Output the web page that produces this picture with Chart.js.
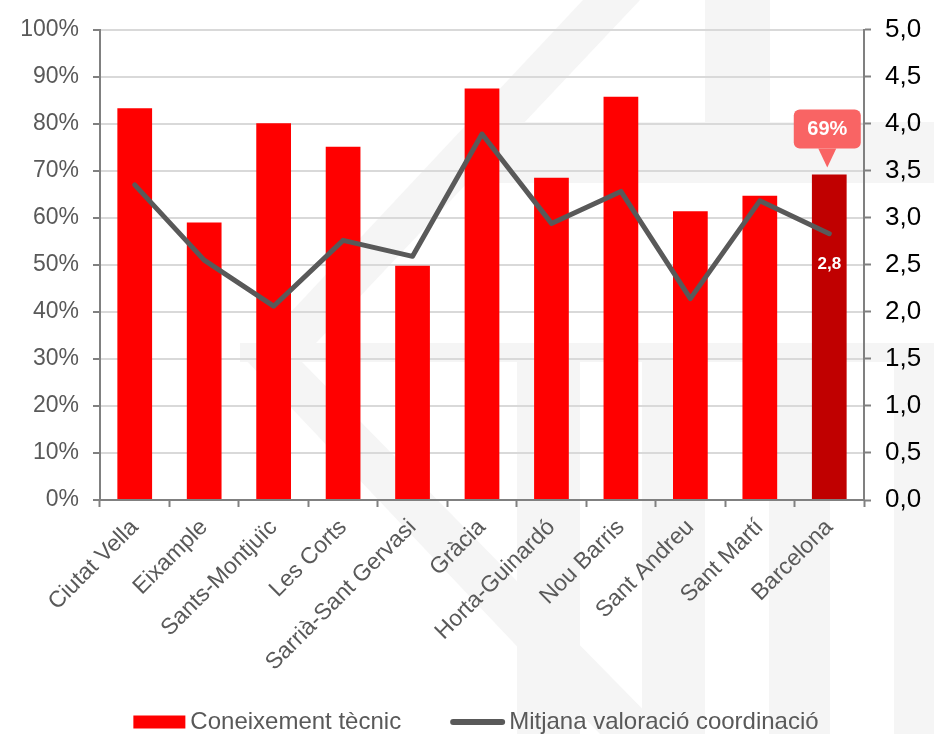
<!DOCTYPE html>
<html lang="ca">
<head>
<meta charset="utf-8">
<title>Coneixement tècnic i valoració de la coordinació</title>
<script src="https://cdn.jsdelivr.net/npm/chart.js@4.4.1/dist/chart.umd.min.js"></script>
<style>
  html, body { margin: 0; padding: 0; background: #fff; }
  #grafica { display: block; }
</style>
</head>
<body>
<canvas id="grafica" width="934" height="734"></canvas>
<script>
// Dades del gràfic
const districtes = ['Ciutat Vella', 'Eixample', 'Sants-Montjuïc', 'Les Corts', 'Sarrià-Sant Gervasi', 'Gràcia', 'Horta-Guinardó', 'Nou Barris', 'Sant Andreu', 'Sant Martí', 'Barcelona'];
const coneixementTecnic = [83.3, 59.0, 80.1, 75.1, 49.8, 87.5, 68.5, 85.7, 61.4, 64.7, 69.2];
const valoracioCoordinacio = [3.35, 2.55, 2.06, 2.76, 2.59, 3.89, 2.94, 3.28, 2.14, 3.18, 2.83];
const ticksPercentatge = [0, 10, 20, 30, 40, 50, 60, 70, 80, 90, 100];
const ticksValoracio = [0, 0.5, 1, 1.5, 2, 2.5, 3, 3.5, 4, 4.5, 5];

const colorAxe = '#808080';
const colorText = '#595959';
const fontFamilia = '"Liberation Sans", Arial, sans-serif';

Chart.defaults.font.family = fontFamilia;

// Fons amb la marca d'aigua
const marcaAigua = {
    id: 'marcaAigua',
    beforeDraw(chart) {
        const ctx = chart.ctx;
        ctx.save();
        ctx.fillStyle = '#ffffff';
        ctx.fillRect(0, 0, chart.width, chart.height);
        ctx.fillStyle = '#f5f5f5';
        const formes = [
            [[583, 0], [640, 0], [300, 360], [246, 360]],
            [[246, 360], [300, 360], [667, 734], [600, 734]],
            [[240, 343], [934, 343], [934, 362], [240, 362]],
            [[480, 122], [934, 122], [934, 183], [480, 183]],
            [[705, 0], [770, 0], [770, 122], [705, 122]],
            [[517, 362], [580, 362], [580, 734], [517, 734]],
            [[642, 362], [705, 362], [705, 734], [642, 734]],
            [[769, 362], [830, 362], [830, 734], [769, 734]],
            [[894, 362], [934, 362], [934, 734], [894, 734]]
        ];
        formes.forEach(function (f) {
            ctx.beginPath();
            ctx.moveTo(f[0][0], f[0][1]);
            for (let k = 1; k < f.length; k++) ctx.lineTo(f[k][0], f[k][1]);
            ctx.closePath();
            ctx.fill();
        });
        ctx.restore();
    }
};

// Etiquetes de Barcelona (globus amb % i valor de la línia)
const etiquetesBarcelona = {
    id: 'etiquetesBarcelona',
    afterDatasetsDraw(chart) {
        const ctx = chart.ctx;
        const i = districtes.length - 1;
        const barra = chart.getDatasetMeta(0).data[i];
        const punt = chart.getDatasetMeta(1).data[i];
        const w = 67, h = 39;
        const xc = barra.x - 2;
        const puntaY = barra.y - 7;
        const baseY = puntaY - 19;

        ctx.save();
        ctx.fillStyle = '#f96464';
        ctx.beginPath();
        ctx.roundRect(xc - w / 2, baseY - h, w, h, 6);
        ctx.fill();
        ctx.beginPath();
        ctx.moveTo(xc - 9, baseY);
        ctx.lineTo(xc + 9, baseY);
        ctx.lineTo(xc, puntaY);
        ctx.closePath();
        ctx.fill();

        ctx.fillStyle = '#ffffff';
        ctx.textAlign = 'center';
        ctx.textBaseline = 'middle';
        ctx.font = 'bold 20px ' + fontFamilia;
        ctx.fillText(Math.round(coneixementTecnic[i]) + '%', xc, baseY - h / 2 + 1);
        ctx.font = 'bold 17px ' + fontFamilia;
        ctx.fillText(valoracioCoordinacio[i].toFixed(1).replace('.', ','), punt.x, punt.y + 31);
        ctx.restore();
    }
};

// Llegenda a la part inferior
const llegenda = {
    id: 'llegenda',
    afterDraw(chart) {
        const ctx = chart.ctx;
        const ds = chart.data.datasets;
        ctx.save();
        ctx.font = '24px ' + fontFamilia;
        ctx.textAlign = 'left';
        ctx.textBaseline = 'middle';
        const w1 = ctx.measureText(ds[0].label).width;
        const w2 = ctx.measureText(ds[1].label).width;
        const total = 52 + 5 + w1 + 49 + 55 + 4 + w2;
        let x = chart.width / 2 - total / 2 + 9;
        const y = 722;

        ctx.fillStyle = '#ff0000';
        ctx.fillRect(x, y - 6.5, 52, 13);
        x += 57;
        ctx.fillStyle = colorText;
        ctx.fillText(ds[0].label, x, y);
        x += w1 + 49;

        ctx.strokeStyle = ds[1].borderColor;
        ctx.lineWidth = 6;
        ctx.lineCap = 'round';
        ctx.beginPath();
        ctx.moveTo(x + 3, y);
        ctx.lineTo(x + 52, y);
        ctx.stroke();
        x += 59;
        ctx.fillText(ds[1].label, x, y);
        ctx.restore();
    }
};

const ctx = document.getElementById('grafica').getContext('2d');

new Chart(ctx, {
    type: 'bar',
    data: {
        labels: districtes,
        datasets: [{
            label: 'Coneixement tècnic',
            data: coneixementTecnic,
            yAxisID: 'y',
            backgroundColor: districtes.map((d, i) => i === districtes.length - 1 ? '#c00000' : '#ff0000'),
            borderWidth: 0,
            barPercentage: 0.5,
            categoryPercentage: 1.0,
            order: 1
        }, {
            type: 'line',
            label: 'Mitjana valoració coordinació',
            data: valoracioCoordinacio,
            yAxisID: 'y1',
            borderColor: '#595959',
            backgroundColor: '#595959',
            borderWidth: 5,
            borderCapStyle: 'round',
            borderJoinStyle: 'round',
            pointRadius: 0,
            pointHoverRadius: 0,
            tension: 0,
            order: 0
        }]
    },
    options: {
        responsive: false,
        devicePixelRatio: 1,
        animation: false,
        layout: {
            padding: { top: 20, left: 0, right: 0, bottom: 0 }
        },
        plugins: {
            legend: { display: false },
            tooltip: { enabled: false }
        },
        scales: {
            x: {
                grid: {
                    offset: true,
                    drawOnChartArea: false,
                    tickLength: 7,
                    tickColor: colorAxe,
                    tickWidth: 2
                },
                border: { color: colorAxe, width: 2 },
                ticks: {
                    color: colorText,
                    font: { size: 23 },
                    minRotation: 45,
                    maxRotation: 45,
                    autoSkip: false,
                    padding: 7
                },
                afterFit(scale) { scale.height = 234; }
            },
            y: {
                position: 'left',
                min: 0,
                max: 100,
                afterBuildTicks(scale) { scale.ticks = ticksPercentatge.map(v => ({ value: v })); },
                grid: {
                    color: '#d9d9d9',
                    lineWidth: 2,
                    tickLength: 7,
                    tickColor: colorAxe,
                    tickWidth: 2
                },
                border: { color: colorAxe, width: 2 },
                ticks: {
                    color: colorText,
                    font: { size: 23 },
                    padding: 14,
                    callback: v => v + '%'
                },
                afterFit(scale) { scale.width = 100; }
            },
            y1: {
                position: 'right',
                min: 0,
                max: 5,
                afterBuildTicks(scale) { scale.ticks = ticksValoracio.map(v => ({ value: v })); },
                grid: {
                    drawOnChartArea: false,
                    tickLength: 7,
                    tickColor: colorAxe,
                    tickWidth: 2
                },
                border: { color: colorAxe, width: 2 },
                ticks: {
                    color: '#000000',
                    font: { size: 26 },
                    padding: 14,
                    callback: v => v.toFixed(1).replace('.', ',')
                },
                afterFit(scale) { scale.width = 70; }
            }
        }
    },
    plugins: [marcaAigua, etiquetesBarcelona, llegenda]
});
</script>
</body>
</html>
